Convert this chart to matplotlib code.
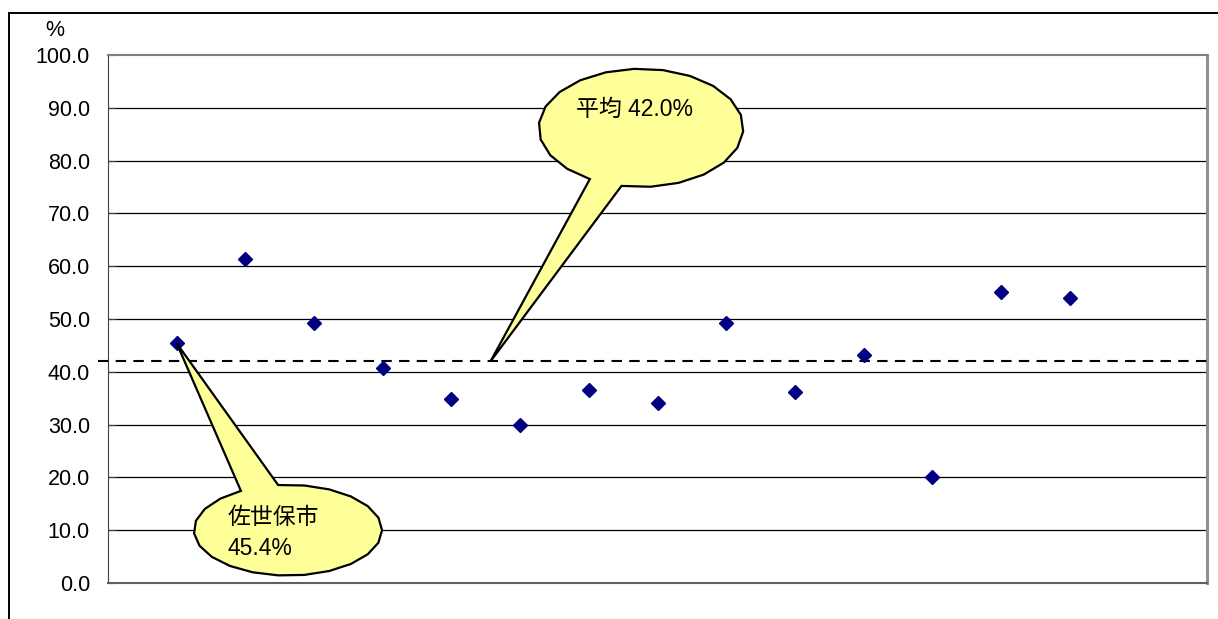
import numpy as np
import matplotlib
matplotlib.use('Agg')
import matplotlib.pyplot as plt
from matplotlib.patches import Polygon, Rectangle

plt.rcParams['font.family'] = ['Liberation Sans', 'Noto Sans CJK JP', 'DejaVu Sans']

# 14 cities, Sasebo first
cities = list(range(1, 15))
rates = [45.4, 61.4, 49.2, 40.7, 34.8, 29.9, 36.6, 34.1, 49.2, 36.2, 43.2, 20.1, 55.1, 54.0]
avg = 42.0
yticks = np.arange(0, 101, 10)
avg_label = '平均'
city_label = '佐世保市'


def balloon(ax, cx, cy, rx, ry, gap0, gap1, tip, n=22):
    # ellipse outline with a gap (gap0..gap1 degrees) closed by a pointed tail
    t = np.radians(np.linspace(gap1, gap0 + 360, n))
    pts = list(zip(cx + rx * np.cos(t), cy + ry * np.sin(t)))
    pts.append(tip)
    poly = Polygon(pts, closed=True, facecolor='#FFFF99', edgecolor='black',
                   linewidth=1.6, zorder=6, clip_on=False, joinstyle='miter')
    ax.add_patch(poly)


fig = plt.figure(figsize=(12.18, 6.19), dpi=100)
ax = fig.add_axes([108 / 1218, 36 / 619, 1099 / 1218, 528 / 619])

# outer chart frame
fig.patches.append(Rectangle((9 / 1218, -0.5), 2, 0.5 + (619 - 13) / 619,
                             transform=fig.transFigure, fill=False,
                             edgecolor='black', linewidth=1.4))

ax.set_xlim(0, 16)
ax.set_ylim(0, 100)
ax.set_xticks([])
ax.set_yticks(yticks)
ax.set_yticklabels([f'{v:.1f}' for v in yticks], fontsize=15.5)
ax.tick_params(axis='y', direction='in', length=6, pad=13, color='#404040')

for v in yticks[1:-1]:
    ax.axhline(v, color='black', linewidth=0.9, zorder=1)

ax.spines['left'].set_color('#404040')
ax.spines['bottom'].set_color('#606060')
ax.spines['bottom'].set_linewidth(1.5)
ax.spines['top'].set_color('#808080')
ax.spines['top'].set_linewidth(1.5)
ax.spines['right'].set_color('#909090')
ax.spines['right'].set_linewidth(2.2)

# average line
ax.plot([-0.15, 16], [avg, avg], color='black', linewidth=1.5,
        dashes=(5, 3.5), zorder=3, clip_on=False)

ax.plot(cities, rates, linestyle='none', marker='D', markersize=7.5,
        color='#000080', zorder=4)

balloon(ax, 7.76, 86.2, 1.49, 11.2, 240, 259, (5.57, avg))
ax.text(6.82, 89.6, f'{avg_label} {avg:.1f}%', fontsize=16.5,
        va='center', ha='left', zorder=7)

balloon(ax, 2.62, 10.0, 1.37, 8.6, 96, 120, (cities[0], rates[0]))
ax.text(1.74, 12.5, city_label, fontsize=16.5, va='center', ha='left', zorder=7)
ax.text(1.74, 6.5, f'{rates[0]:.1f}%', fontsize=16.5, va='center', ha='left', zorder=7)

fig.text(55 / 1218, 1 - 30 / 619, '%', fontsize=15.5, ha='center', va='center')

fig.savefig('out.png', dpi=100)
